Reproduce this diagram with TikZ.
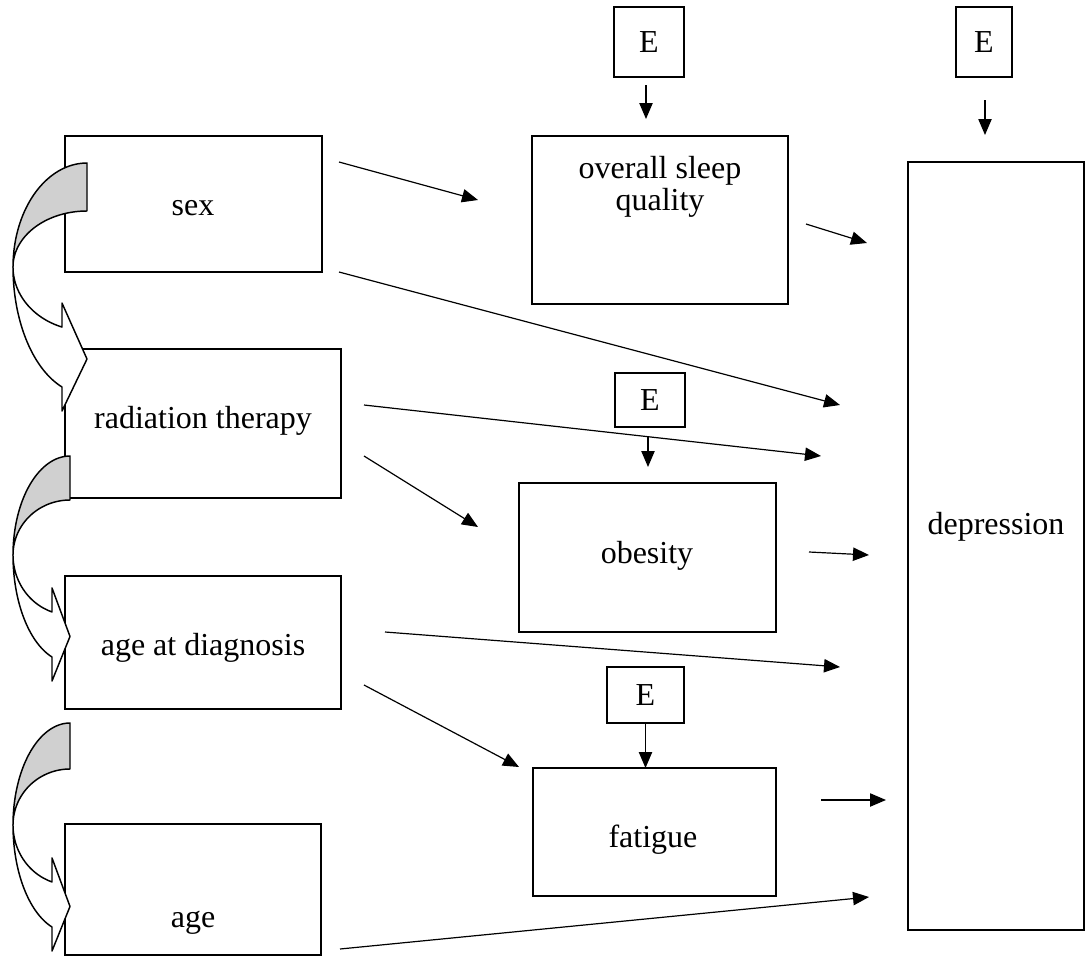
\documentclass[tikz,border=0pt]{standalone}
\usepackage{fontspec}
\setmainfont{Liberation Serif}
\usetikzlibrary{arrows.meta}
\definecolor{bandgray}{RGB}{208,208,208}
\newcommand\pbox[5]{%
  \pgfmathsetmacro\bw{(#4-#2)*0.75}%
  \pgfmathsetmacro\bh{(#5-#3)*0.75}%
  \node[box, minimum width=\bw pt, minimum height=\bh pt] (#1) at (#2,#3) {};}
\newcommand\curvarrow[8]{%
  \pgfmathsetmacro\ang{acos((#8-#1)/#3)}%
  \pgfmathsetmacro\sn{sin(\ang)}%
  \pgfmathsetmacro\nA{#2+#6*\sn}%
  \pgfmathsetmacro\nB{#2+#7*\sn}%
  \pgfmathsetmacro\tp{(\nA+\nB)/2+2}%
  \filldraw[band, fill=bandgray]
    plot[domain=270:180, samples=40] ({#1+#3*cos(\x)},{#2+#4*sin(\x)})
    -- plot[domain=180:270, samples=40] ({#1+#3*cos(\x)},{#2+#5*sin(\x)})
    -- cycle;
  \filldraw[band, fill=white]
    plot[domain=180:\ang, samples=40] ({#1+#3*cos(\x)},{#2+#6*sin(\x)})
    -- (#8,\nA-24) -- (#1,\tp) -- (#8,\nB+24) -- (#8,\nB)
    -- plot[domain=\ang:180, samples=40] ({#1+#3*cos(\x)},{#2+#7*sin(\x)})
    -- cycle;}
\begin{document}
\begin{tikzpicture}[x=0.75pt,y=-0.75pt,
  box/.style={draw, line width=1.3pt, inner sep=0pt, outer sep=0pt, anchor=north west},
  txt/.style={font=\fontsize{24}{29}\selectfont, inner sep=0pt, anchor=mid},
  ebox/.style={draw, line width=1.3pt, inner sep=0pt, outer sep=0pt, font=\fontsize{24}{29}\selectfont},
  conn/.style={line width=0.9pt, -{Triangle[length=12pt,width=10pt]}},
  band/.style={line width=1.1pt, line join=round}]
\useasboundingbox (0,0) rectangle (1086,957);

% boxes
\pbox{sex}{65}{136}{322}{272}
\pbox{rad}{65}{349}{341}{498}
\pbox{agedx}{65}{576}{341}{709}
\pbox{age}{65}{824}{321}{955}
\pbox{sleep}{532}{136}{788}{304}
\pbox{obes}{519}{483}{776}{632}
\pbox{fat}{533}{768}{776}{896}
\pbox{dep}{908}{162}{1084}{930}

% texts
\node[txt] (tsex) at (193,212) {sex};
\node[txt] (trad) at (203,425) {radiation therapy};
\node[txt] (tagedx) at (203,652) {age at diagnosis};
\node[txt] (tage) at (193,924) {age};
\node[txt] (tsleep1) at (660,175) {overall sleep};
\node[txt] (tsleep2) at (660,207) {quality};
\node[txt] (tobes) at (647,560) {obesity};
\node[txt] (tfat) at (653,844) {fatigue};
\node[txt] (tdep) at (996,531) {depression};

% error boxes
\node[ebox, minimum width=52.5pt, minimum height=52.5pt] (e1) at (649,42) {E};
\node[ebox, minimum width=42pt, minimum height=52.5pt] (e2) at (984,42) {E};
\node[ebox, minimum width=52.5pt, minimum height=40.5pt] (e3) at (650,400) {E};
\node[ebox, minimum width=57.75pt, minimum height=42pt] (e4) at (645.5,695) {E};

% connector end points
\coordinate (a1) at (339,162);  \coordinate (b1) at (478,200);
\coordinate (a2) at (339,272);  \coordinate (b2) at (840,405);
\coordinate (a3) at (364,405);  \coordinate (b3) at (821,456);
\coordinate (a4) at (364,456);  \coordinate (b4) at (478,527);
\coordinate (a5) at (385,632);  \coordinate (b5) at (840,667);
\coordinate (a6) at (364,685);  \coordinate (b6) at (519,767);
\coordinate (a7) at (340,949);  \coordinate (b7) at (869,897);
\coordinate (a8) at (806,224);  \coordinate (b8) at (867,243);
\coordinate (a9) at (809,552);  \coordinate (b9) at (869,555);
\coordinate (a10) at (821,800); \coordinate (b10) at (886,800);
\coordinate (a11) at (646,85);  \coordinate (b11) at (646,119);
\coordinate (a12) at (985,100); \coordinate (b12) at (985,135);
\coordinate (a13) at (648,437); \coordinate (b13) at (648,467);

\draw[conn] (a1) -- (b1);
\draw[conn] (a2) -- (b2);
\draw[conn] (a3) -- (b3);
\draw[conn] (a4) -- (b4);
\draw[conn] (a5) -- (b5);
\draw[conn] (a6) -- (b6);
\draw[conn] (a7) -- (b7);
\draw[conn] (a8) -- (b8);
\draw[conn] (a9) -- (b9);
\draw[conn] (a10) -- (b10);
\draw[conn] (a11) -- (b11);
\draw[conn] (a12) -- (b12);
\draw[conn] (a13) -- (b13);
\draw[conn] (e4.south) -- (e4.south |- fat.north);

% curved arrows on the left
\curvarrow{87}{267}{74}{104}{56}{63.8}{127.5}{62}
\curvarrow{70}{555}{57}{99}{55}{60}{107.5}{52}
\curvarrow{70}{825}{57}{102}{56}{60}{107.5}{52}
\end{tikzpicture}
\end{document}
